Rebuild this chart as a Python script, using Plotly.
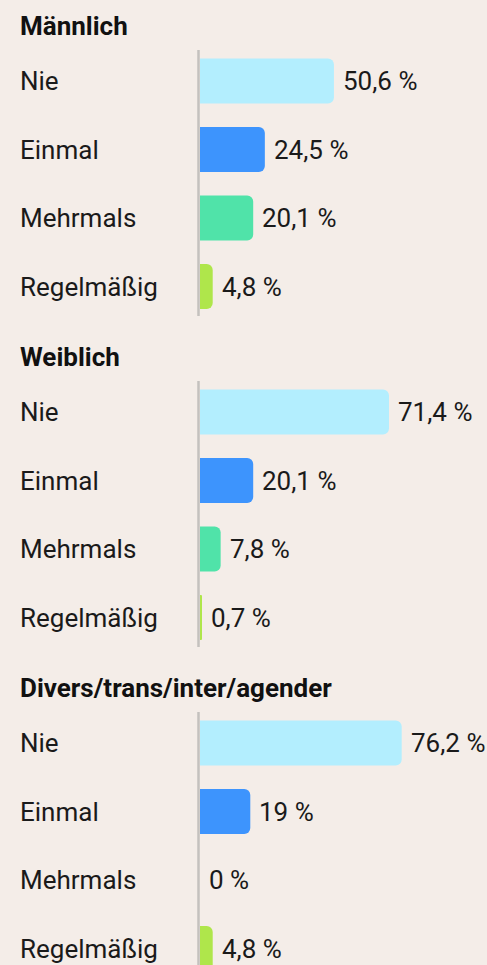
import plotly.graph_objects as go

# Data
groups = ["Männlich", "Weiblich", "Divers/trans/inter/agender"]
categories = ["Nie", "Einmal", "Mehrmals", "Regelmäßig"]
maennlich = [50.6, 24.5, 20.1, 4.8]
weiblich = [71.4, 20.1, 7.8, 0.7]
divers = [76.2, 19.0, 0.0, 4.8]
series = [maennlich, weiblich, divers]
colors = ["#b3eefe", "#3d94fd", "#50e3a9", "#afe64b"]

W, H = 487, 965
X0_PX = 200          # pixel where 0 % sits
PX_PER_PCT = 2.647   # pixels per percent
GROUP_STEP = 331
GROUP_TOP0 = 26
FIRST_BAR = 55
BAR_STEP = 68.5
BAR_H = 45

FONT = "Roboto"
TXT = "#1a1a1a"
FS = 26


def fmt(v):
    s = ("%.1f" % v).rstrip("0").rstrip(".")
    return s.replace(".", ",") + " %"


fig = go.Figure()
annotations = []
shapes = []

for g, (name, vals) in enumerate(zip(groups, series)):
    top = GROUP_TOP0 + g * GROUP_STEP
    ys = [top + FIRST_BAR + i * BAR_STEP for i in range(len(categories))]
    fig.add_trace(go.Bar(
        x=vals, y=ys, orientation="h", width=BAR_H,
        marker=dict(color=colors, cornerradius=6, line=dict(width=0)),
        hoverinfo="skip", showlegend=False,
    ))
    annotations.append(dict(
        x=18 / W, xref="paper", y=top, yref="y", text="<b>" + name + "</b>",
        showarrow=False, xanchor="left", yanchor="middle",
        font=dict(family=FONT, size=FS, color="#111111"),
    ))
    for cat, v, y in zip(categories, vals, ys):
        annotations.append(dict(
            x=18 / W, xref="paper", y=y, yref="y", text=cat,
            showarrow=False, xanchor="left", yanchor="middle",
            font=dict(family=FONT, size=FS, color=TXT),
        ))
        annotations.append(dict(
            x=v, xref="x", y=y, yref="y", text=fmt(v), xshift=7,
            showarrow=False, xanchor="left", yanchor="middle",
            font=dict(family=FONT, size=FS, color=TXT),
        ))
    shapes.append(dict(
        type="line", xref="paper", yref="y",
        x0=198.5 / W, x1=198.5 / W, y0=top + 24, y1=top + 290,
        line=dict(color="#c4c1be", width=2.5), layer="above",
    ))

fig.update_layout(
    width=W, height=H,
    margin=dict(l=0, r=0, t=0, b=0),
    paper_bgcolor="#f4ede8", plot_bgcolor="#f4ede8",
    barmode="overlay",
    xaxis=dict(domain=[X0_PX / W, (X0_PX + 100 * PX_PER_PCT) / W], range=[0, 100],
               visible=False, fixedrange=True),
    yaxis=dict(range=[H, 0], visible=False, fixedrange=True),
    annotations=annotations, shapes=shapes,
    font=dict(family=FONT),
)

fig.write_html(
    "out.html",
    config={"displayModeBar": False},
    post_script="document.body.style.margin='0';document.body.style.background='#f4ede8';document.body.style.overflow='hidden';",
)
